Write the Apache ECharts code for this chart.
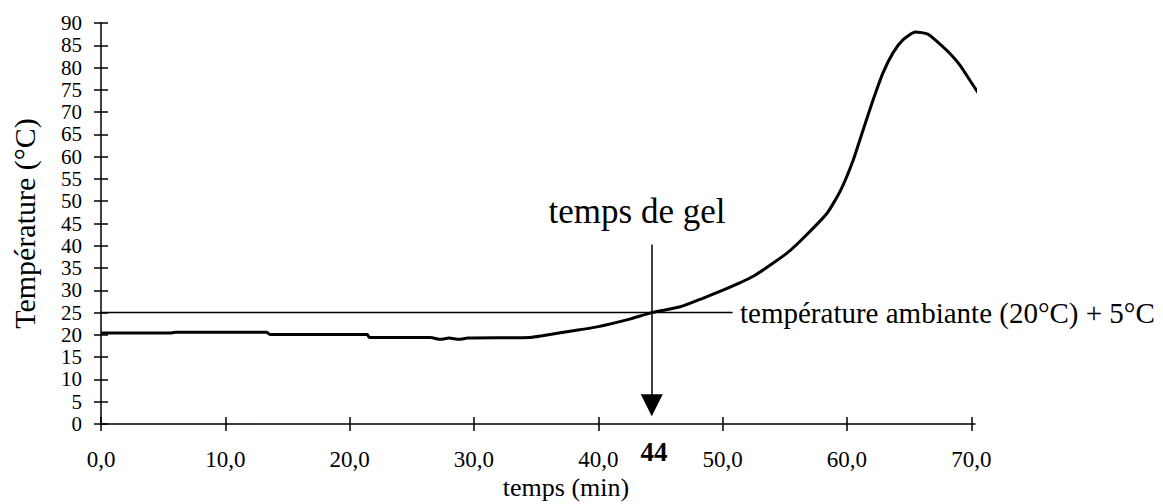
<!DOCTYPE html>
<html>
<head>
<meta charset="utf-8">
<script src="https://cdn.jsdelivr.net/npm/echarts@6/dist/echarts.min.js"></script>
<style>html,body{margin:0;padding:0;background:#fff}#c{width:1163px;height:504px}</style>
</head>
<body>
<div id="c"></div>
<script>
// ---- data ----
const timeMin = [0, 5.5, 6, 13.3, 13.6, 21.4, 21.6, 26.5, 27.3, 28, 28.8, 29.5, 34.5, 35.5, 37.2, 39.9, 42.6, 44.3, 46.6, 48.4, 50.6, 52.5, 55.2, 56.8, 58.4, 59.5, 60.5, 61.3, 62.1, 62.9, 63.7, 64.5, 65.5, 66.5, 67.3, 68.3, 69.1, 69.9, 70.7];
const tempC   = [20.4, 20.4, 20.6, 20.6, 20.1, 20.1, 19.4, 19.4, 19.0, 19.3, 19.0, 19.3, 19.4, 19.8, 20.6, 21.8, 23.6, 25.0, 26.3, 28.2, 30.7, 33.2, 38.4, 42.6, 47.3, 52.5, 59.2, 66.0, 72.7, 78.8, 83.3, 86.2, 88.0, 87.5, 85.7, 83.1, 80.5, 77.1, 73.7];
const xTicks = [0, 10, 20, 30, 40, 50, 60, 70];
const yTicks = [0, 5, 10, 15, 20, 25, 30, 35, 40, 45, 50, 55, 60, 65, 70, 75, 80, 85, 90];
const ambientLevel = 25;          // température ambiante (20°C) + 5°C
const ambientSpan = [-1.5, 50.8]; // extent of the reference line (min)
const gelTime = 44.3;             // temps de gel (arrow position)
const gelLabel = '44';
const arrowFrom = 40.3, arrowTo = 4.2; // °C range of the arrow

const FONT = '"Liberation Serif", "Times New Roman", serif';
const chart = echarts.init(document.getElementById('c'), null, {renderer: 'svg'});
const black = '#000';

const curve = timeMin.map((t, i) => [t, tempC[i]]);

const xBase = {type: 'value', min: 0, max: 70.3, splitLine: {show: false}};
const yBase = {type: 'value', min: 0, max: 90, splitLine: {show: false}};

chart.setOption({
  animation: false,
  backgroundColor: '#fff',
  grid: {left: 101, right: 188, top: 23, bottom: 80},
  xAxis: [
    Object.assign({}, xBase, {
      position: 'bottom',
      axisLine: {show: true, lineStyle: {color: black, width: 1.5}},
      axisTick: {show: true, customValues: xTicks, length: 7, lineStyle: {color: black, width: 1.5}},
      axisLabel: {show: true, customValues: xTicks, formatter: v => v.toFixed(1).replace('.', ','),
        fontFamily: FONT, fontSize: 23, color: black, margin: 24, showMinLabel: true, showMaxLabel: true}
    }),
    Object.assign({}, xBase, {
      position: 'bottom', offset: 0,
      axisLine: {show: false},
      axisTick: {show: true, inside: true, customValues: xTicks, length: 7, lineStyle: {color: black, width: 1.5}},
      axisLabel: {show: false}
    })
  ],
  yAxis: [
    Object.assign({}, yBase, {
      position: 'left',
      name: 'Température (°C)', nameLocation: 'middle', nameRotate: 90, nameGap: 62,
      nameTextStyle: {fontFamily: FONT, fontSize: 30, color: black},
      axisLine: {show: true, lineStyle: {color: black, width: 1.5}},
      axisTick: {show: true, customValues: yTicks, length: 7, lineStyle: {color: black, width: 1.5}},
      axisLabel: {show: true, customValues: yTicks, fontFamily: FONT, fontSize: 21, lineHeight: 19, color: black,
        margin: 19, hideOverlap: false, showMinLabel: true, showMaxLabel: true}
    }),
    Object.assign({}, yBase, {
      position: 'left', offset: 0,
      axisLine: {show: false},
      axisTick: {show: true, inside: true, customValues: yTicks, length: 7, lineStyle: {color: black, width: 1.5}},
      axisLabel: {show: false}
    })
  ],
  series: [
    {
      type: 'line', xAxisIndex: 0, yAxisIndex: 0, data: curve, showSymbol: false, symbol: 'none',
      clip: false, smooth: 0.2, silent: true,
      lineStyle: {color: black, width: 3}
    },
    {
      type: 'line', xAxisIndex: 0, yAxisIndex: 0, showSymbol: false, symbol: 'none', clip: false, silent: true,
      data: [[ambientSpan[0], ambientLevel], [ambientSpan[1], ambientLevel]],
      lineStyle: {color: black, width: 1.5},
      markLine: {
        silent: true, symbol: ['none', 'triangle'], symbolSize: [22, 22],
        label: {show: false},
        lineStyle: {color: black, width: 1.5, type: 'solid'},
        emphasis: {disabled: true},
        data: [[{coord: [gelTime, arrowFrom]}, {coord: [gelTime, arrowTo]}]]
      }
    }
  ],
  graphic: [
    {type: 'text', x: 637, y: 211, silent: true,
     style: {text: 'temps de gel', fontFamily: FONT, fontSize: 35, fill: black, align: 'center', verticalAlign: 'middle'}},
    {type: 'text', x: 740, y: 313, silent: true,
     style: {text: 'température ambiante (20°C) + 5°C', fontFamily: FONT, fontSize: 29, fill: black, align: 'left', verticalAlign: 'middle'}},
    {type: 'text', x: 654, y: 452, silent: true,
     style: {text: gelLabel, fontFamily: FONT, fontSize: 27, fontWeight: 'bold', fill: black, align: 'center', verticalAlign: 'middle'}},
    {type: 'text', x: 566, y: 487, silent: true,
     style: {text: 'temps (min)', fontFamily: FONT, fontSize: 26, fill: black, align: 'center', verticalAlign: 'middle'}}
  ]
});
</script>
</body>
</html>
